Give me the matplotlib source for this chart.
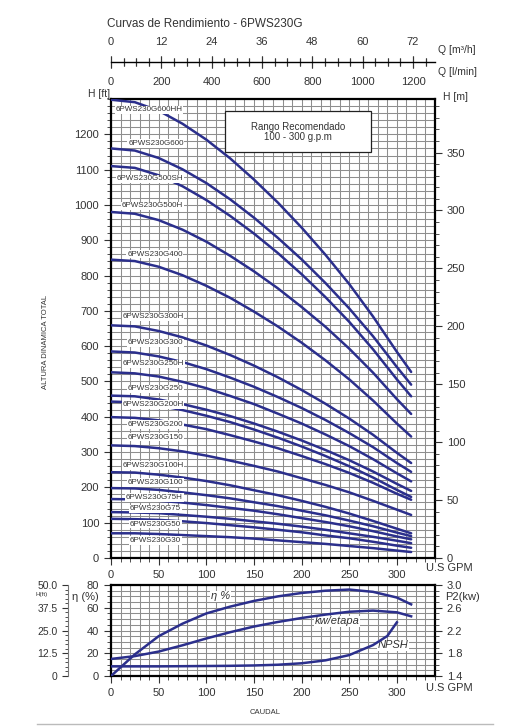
import matplotlib
matplotlib.use("Agg")
import matplotlib.pyplot as plt
from matplotlib.lines import Line2D
from matplotlib.patches import Rectangle
from matplotlib.ticker import MultipleLocator, FixedLocator

plt.rcParams['font.family'] = ['Liberation Sans', 'DejaVu Sans']

# caudal (U.S GPM) en el que se leyeron las curvas H-Q
Q_GPM = [0, 25, 50, 75, 100, 125, 150, 175, 200, 225, 250, 275, 300, 315]

MODELS = ["6PWS230G600HH", "6PWS230G600", "6PWS230G500SH", "6PWS230G500H",
          "6PWS230G400", "6PWS230G300H", "6PWS230G300", "6PWS230G250H",
          "6PWS230G250", "6PWS230G200H", "6PWS230G200", "6PWS230G150",
          "6PWS230G100H", "6PWS230G100", "6PWS230G75H", "6PWS230G75",
          "6PWS230G50", "6PWS230G30"]

# altura [ft] de cada modelo
H_600HH = [1298, 1291, 1267, 1230, 1185, 1132, 1072, 1007, 936, 859, 776, 684, 584, 527]
H_600 = [1160, 1154, 1133, 1101, 1062, 1016, 964, 907, 846, 779, 707, 628, 541, 491]
H_500SH = [1110, 1105, 1084, 1053, 1014, 969, 919, 864, 804, 739, 669, 591, 506, 458]
H_500H = [980, 975, 957, 930, 896, 856, 812, 764, 711, 655, 593, 525, 450, 408]
H_400 = [845, 841, 825, 801, 771, 737, 698, 656, 610, 560, 506, 446, 381, 344]
H_300H = [659, 656, 643, 625, 602, 575, 545, 512, 476, 437, 395, 349, 298, 269]
H_300 = [585, 582, 571, 555, 535, 511, 485, 456, 425, 391, 354, 314, 269, 244]
H_250H = [526, 523, 514, 499, 481, 459, 436, 409, 381, 350, 317, 280, 240, 217]
H_250 = [460, 458, 449, 436, 420, 402, 381, 358, 333, 306, 277, 245, 210, 190]
H_200H = [443, 441, 432, 419, 403, 385, 364, 341, 316, 289, 260, 228, 193, 173]
H_200 = [399, 397, 390, 378, 365, 348, 330, 311, 289, 266, 241, 213, 182, 165]
H_150 = [319, 317, 311, 302, 290, 276, 261, 245, 226, 207, 186, 162, 137, 122]
H_100H = [243, 242, 236, 228, 218, 206, 192, 178, 162, 145, 126, 105, 83, 70]
H_100 = [198, 197, 193, 186, 178, 169, 158, 147, 134, 121, 106, 90, 72, 62]
H_75H = [167, 166, 162, 157, 150, 142, 134, 124, 113, 102, 90, 76, 61, 53]
H_75 = [130, 129, 127, 122, 117, 111, 104, 97, 89, 80, 70, 60, 49, 42]
H_50 = [111, 110, 108, 104, 99, 93, 87, 80, 73, 64, 56, 46, 35, 29]
H_30 = [70, 70, 68, 65, 62, 59, 55, 50, 45, 40, 34, 28, 21, 17]

HEADS = [H_600HH, H_600, H_500SH, H_500H, H_400, H_300H, H_300, H_250H,
         H_250, H_200H, H_200, H_150, H_100H, H_100, H_75H, H_75, H_50, H_30]

# posicion de las etiquetas (GPM borde izq., ft centro)
LABEL_X = [5, 18, 6, 11.5, 17, 12, 17.5, 12, 17.5, 12, 17.5, 17.5, 12, 17.5, 15.7, 20, 20, 20]
LABEL_Y = [1269, 1174, 1074, 997, 861, 683, 609, 550, 479, 435, 378, 342, 262, 214, 172, 139, 96, 49]

# panel inferior: rendimiento, potencia por etapa y NPSH
Q_EFF = [0, 25, 50, 75, 100, 125, 150, 175, 200, 225, 250, 275, 300, 315]
ETA = [0, 19, 35, 46, 55, 61, 66, 70, 73, 75, 76, 74, 69, 63]
KW = [1.70, 1.75, 1.83, 1.94, 2.06, 2.17, 2.27, 2.35, 2.42, 2.48, 2.53, 2.55, 2.52, 2.45]
Q_NPSH = [0, 25, 50, 75, 100, 125, 150, 175, 200, 225, 250, 275, 290, 300]
NPSH = [5.3, 5.3, 5.3, 5.4, 5.5, 5.6, 5.8, 6.2, 7.0, 8.6, 11.5, 17.0, 22.0, 29.5]

FT_TO_M = 0.3048
M3H_TO_GPM = 4.40287
LMIN_TO_GPM = 0.264172

CURVE = "#2b2f8c"
GRID = "#8e8e8e"
TXT = "#333333"

fig = plt.figure(figsize=(5.24, 7.28), dpi=100)

# ---------- grafico principal H-Q ----------
ax = fig.add_axes([0.2118, 0.2335, 0.6183, 0.6305])
ax.set_xlim(0, 340)
ax.set_ylim(0, 1300)
ax.set_axisbelow(True)
ax.xaxis.set_minor_locator(MultipleLocator(10))
ax.yaxis.set_minor_locator(MultipleLocator(20))
ax.set_xticks(range(0, 301, 50))
ax.set_yticks(range(0, 1201, 100))
ax.grid(which="both", color=GRID, lw=0.75)
ax.tick_params(which="both", direction="out", colors=TXT, labelsize=8)
ax.tick_params(which="major", length=5)
ax.tick_params(which="minor", length=3)
for s in ax.spines.values():
    s.set_linewidth(1.6)

for name, h, lx, ly in zip(MODELS, HEADS, LABEL_X, LABEL_Y):
    ax.plot(Q_GPM, h, color=CURVE, lw=1.8, zorder=3, solid_capstyle="round",
            solid_joinstyle="round")
    ax.text(lx, ly, name, fontsize=5.8, color=TXT, ha="left", va="center",
            zorder=4, bbox=dict(fc="white", ec="none", pad=0.5))

ax.add_patch(Rectangle((119.5, 1149), 153, 116, fc="white", ec="#222222",
                       lw=0.9, zorder=4))
ax.text(196, 1207, "Rango Recomendado\n100 - 300 g.p.m", fontsize=7,
        color=TXT, ha="center", va="center", zorder=5, linespacing=1.05)

axm = ax.twinx()
axm.set_ylim(0, 1300 * FT_TO_M)
axm.set_yticks(range(0, 351, 50))
axm.yaxis.set_minor_locator(MultipleLocator(10))
axm.tick_params(which="both", direction="out", colors=TXT, labelsize=8)
axm.tick_params(which="major", length=5)
axm.tick_params(which="minor", length=3)
for s in axm.spines.values():
    s.set_visible(False)

fig.text(0.19, 0.871, "H [ft]", fontsize=7.5, color=TXT, ha="center", va="center")
fig.text(0.845, 0.867, "H [m]", fontsize=7.5, color=TXT, ha="left", va="center")
fig.text(0.857, 0.220, "U.S GPM", fontsize=8, color=TXT, ha="center", va="center")
fig.text(0.086, 0.530, "ALTURA DINAMICA TOTAL", fontsize=5.5, color=TXT,
         rotation=90, ha="center", va="center")

# ---------- escala de caudal superior ----------
axq = fig.add_axes([0.2118, 0.9148, 0.6183, 0.0001])
axq.set_xlim(0, 340)
axq.set_yticks([])
for k in ("left", "right", "top"):
    axq.spines[k].set_visible(False)
axq.spines["bottom"].set_linewidth(1.0)
lmin_major = list(range(0, 1201, 200))
axq.set_xticks([v * LMIN_TO_GPM for v in lmin_major], [str(v) for v in lmin_major])
axq.xaxis.set_minor_locator(FixedLocator([v * LMIN_TO_GPM for v in range(0, 1251, 50)]))
axq.tick_params(which="both", direction="inout", colors=TXT, labelsize=8, pad=6)
axq.tick_params(which="major", length=9, width=0.8)
axq.tick_params(which="minor", length=6, width=0.8)

axq2 = axq.secondary_xaxis("top", functions=(lambda g: g / M3H_TO_GPM,
                                             lambda m: m * M3H_TO_GPM))
axq2.set_xticks(list(range(0, 73, 12)))
axq2.xaxis.set_minor_locator(MultipleLocator(3))
axq2.tick_params(which="both", direction="inout", colors=TXT, labelsize=8, pad=6)
axq2.tick_params(which="major", length=9, width=0.8)
axq2.tick_params(which="minor", length=6, width=0.8)
axq2.spines["top"].set_visible(False)

fig.text(0.836, 0.932, "Q [m³/h]", fontsize=7.5, color=TXT, ha="left", va="center")
fig.text(0.836, 0.901, "Q [l/min]", fontsize=7.5, color=TXT, ha="left", va="center")
fig.text(0.205, 0.967, "Curvas de Rendimiento - 6PWS230G", fontsize=8.5,
         color=TXT, ha="left", va="center")

# ---------- panel inferior ----------
axb = fig.add_axes([0.2118, 0.0714, 0.6183, 0.1250])
axb.set_xlim(0, 340)
axb.set_ylim(0, 80)
axb.set_axisbelow(True)
axb.set_xticks(range(0, 301, 50))
axb.xaxis.set_minor_locator(MultipleLocator(10))
axb.yaxis.set_major_locator(MultipleLocator(20))
axb.yaxis.set_minor_locator(MultipleLocator(5))
axb.grid(which="both", color=GRID, lw=0.75)
axb.tick_params(which="both", direction="out", colors=TXT, labelsize=8)
axb.tick_params(which="major", length=5)
axb.tick_params(which="minor", length=3)
for s in axb.spines.values():
    s.set_linewidth(1.6)
axb.plot(Q_EFF, ETA, color=CURVE, lw=1.8, zorder=3, solid_joinstyle="round")

axp = axb.twinx()
axp.set_ylim(1.4, 3.0)
axp.set_yticks([1.4, 1.8, 2.2, 2.6, 3.0])
axp.yaxis.set_minor_locator(MultipleLocator(0.1))
axp.tick_params(which="both", direction="out", colors=TXT, labelsize=8)
axp.tick_params(which="major", length=5)
axp.tick_params(which="minor", length=3)
for s in axp.spines.values():
    s.set_visible(False)
axp.plot(Q_EFF, KW, color=CURVE, lw=1.8, zorder=3, solid_joinstyle="round")

axn = axb.twinx()
axn.set_ylim(0, 50)
axn.yaxis.set_ticks_position("left")
axn.spines["left"].set_position(("outward", 31))
axn.spines["left"].set_visible(True)
axn.spines["left"].set_linewidth(0.8)
axn.spines["left"].set_color("#777777")
for k in ("right", "top", "bottom"):
    axn.spines[k].set_visible(False)
axn.set_yticks([0, 12.5, 25, 37.5, 50], ["0", "12.5", "25.0", "37.5", "50.0"])
axn.yaxis.set_minor_locator(MultipleLocator(2.5))
axn.tick_params(which="both", direction="out", colors=TXT, labelsize=7.5)
axn.tick_params(which="major", length=4)
axn.tick_params(which="minor", length=2)
axn.plot(Q_NPSH, NPSH, color=CURVE, lw=1.8, zorder=3, solid_joinstyle="round")

axb.text(115, 70, "η %", fontsize=8, style="italic", color=TXT, ha="center",
         va="center", zorder=4, bbox=dict(fc="white", ec="none", pad=0.5))
axb.text(237, 48, "kw/etapa", fontsize=8, style="italic", color=TXT, ha="center",
         va="center", zorder=4, bbox=dict(fc="white", ec="none", pad=0.5))
axb.text(296, 27, "NPSH", fontsize=8, style="italic", color=TXT, ha="center",
         va="center", zorder=4, bbox=dict(fc="white", ec="none", pad=0.5))

fig.text(0.162, 0.180, "η (%)", fontsize=8, color=TXT, ha="center", va="center")
fig.text(0.080, 0.183, "H(ft)", fontsize=4.5, color=TXT, ha="center", va="center")
fig.text(0.882, 0.180, "P2(kw)", fontsize=8, color=TXT, ha="center", va="center")
fig.text(0.857, 0.055, "U.S GPM", fontsize=8, color=TXT, ha="center", va="center")
fig.text(0.506, 0.021, "CAUDAL", fontsize=5.5, color=TXT, ha="center", va="center")
fig.add_artist(Line2D([0.07, 0.94], [0.005, 0.005], color="#bbbbbb", lw=1.0))

fig.savefig("out.png", dpi=100)
